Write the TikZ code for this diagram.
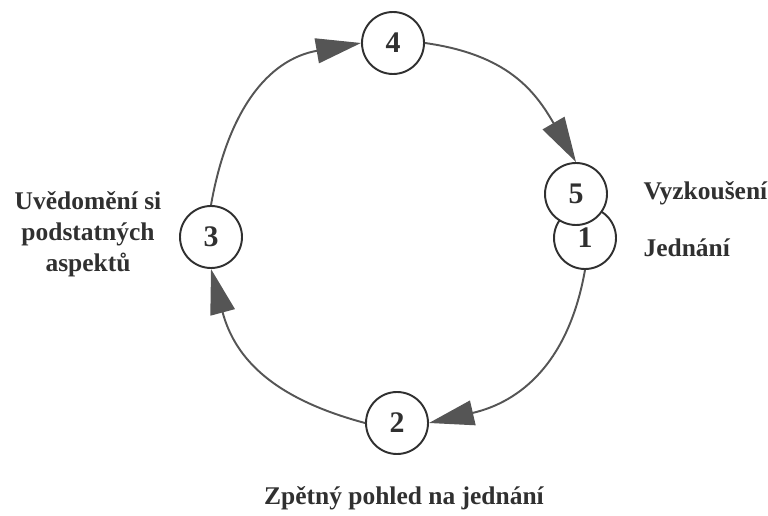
\documentclass[tikz,border=0pt]{standalone}
\usepackage{fontspec}
\setmainfont{Liberation Serif}
\usetikzlibrary{arrows.meta}

\definecolor{linegray}{HTML}{555555}
\definecolor{textgray}{HTML}{303030}

\begin{document}
\begin{tikzpicture}[thick,
    main/.style={draw=textgray, circle, fill=white, line width=1.1pt, minimum size=1.24cm, inner sep=0pt, text=textgray, font=\fontsize{17}{20}\selectfont\bfseries},
    conn/.style={draw=linegray, line width=1.1pt, looseness=1.1, -{Triangle[length=0.9cm, width=0.5cm]}},
    lbl/.style={text=textgray, font=\fontsize{14.5}{17.6}\selectfont\bfseries}]
		\useasboundingbox (0,0) rectangle (15.36,10.30);

		\node[main] (4) at (7.86,9.44) {4};
		\node[main] (3) at (4.22,5.56) {3};
		\node[main] (2) at (7.94,1.84) {2};
		\node[main] (1) at (11.70,5.54) {1};
		\node[main] (5) at (11.52,6.42) {5};

		\node[lbl, anchor=base west] (vyzk) at (12.74,6.30) {Vyzkoušení};
		\node[lbl, anchor=base west] (jedn) at (12.74,5.16) {Jednání};
		\node[lbl, align=center] (uved) at (1.76,5.62) {Uvědomění si\\podstatných\\aspektů};
		\node[lbl] (zpet) at (8.08,0.34) {Zpětný pohled na jednání};

		\draw[conn] (3.north) to[out=80, in=190] (4.west);
		\draw[conn] (4.east) to[out=-8, in=120] (5.north);
		\draw[conn] (1.south) to[out=-100, in=13] (2.east);
		\draw[conn] (2.west) to[out=165, in=-75] (3.south);
	\end{tikzpicture}
\end{document}
